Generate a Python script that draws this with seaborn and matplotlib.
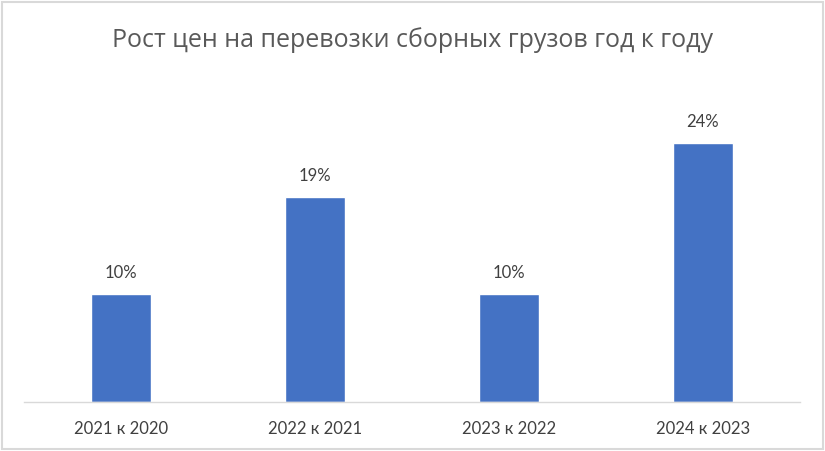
import matplotlib
matplotlib.use("Agg")
import matplotlib.pyplot as plt
import seaborn as sns
import pandas as pd
from matplotlib.patches import Rectangle

# datos del grafico
categorias = ["2021 к 2020", "2022 к 2021", "2023 к 2022", "2024 к 2023"]
valores = [10, 19, 10, 24]
titulo = "Рост цен на перевозки сборных грузов год к году"

df = pd.DataFrame({"periodo": categorias, "rost": valores})

sns.set_theme(style="white")
plt.rcParams["font.family"] = ["Open Sans", "DejaVu Sans"]

fig = plt.figure(figsize=(8.25, 4.51), dpi=100)
ax = fig.add_axes([24 / 825, 49 / 451, 776 / 825, 324 / 451])

sns.barplot(data=df, x="periodo", y="rost", color="#4472C4", width=0.31,
            saturation=1, ax=ax)

ax.set_xlim(-0.5, len(categorias) - 0.5)
ax.set_ylim(0, 30)
ax.set_xlabel("")
ax.set_ylabel("")
ax.set_yticks([])
for s in ["top", "left", "right"]:
    ax.spines[s].set_visible(False)
ax.spines["bottom"].set_color("#D9D9D9")
ax.spines["bottom"].set_linewidth(1)
ax.tick_params(axis="x", length=0, pad=14, labelsize=12, labelcolor="#404040")
for lbl in ax.get_xticklabels():
    lbl.set_family(["Lato", "DejaVu Sans"])

# etiquetas de valores
for i, v in enumerate(valores):
    ax.text(i, v + 1.2, f"{v}%", ha="center", va="bottom", fontsize=12,
            color="#404040", family=["Lato", "DejaVu Sans"])

fig.text(0.5, 1 - 40 / 451, titulo, ha="center", va="center", fontsize=18,
         color="#595959")

# borde del grafico
fig.patches.append(Rectangle((2 / 825, 2 / 451), 821 / 825, 447 / 451,
                             transform=fig.transFigure, fill=False,
                             edgecolor="#D9D9D9", linewidth=1.5))

fig.savefig("out.png", dpi=100)
